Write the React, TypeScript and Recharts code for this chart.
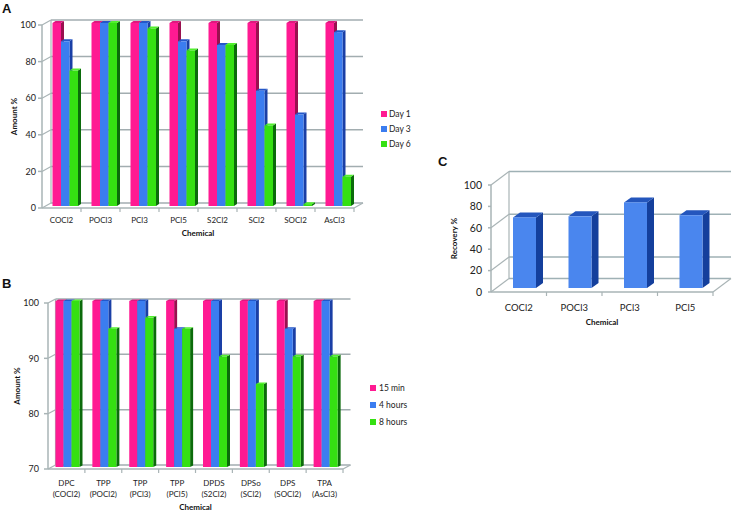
import { BarChart, Bar, XAxis, YAxis, CartesianGrid, Legend } from 'recharts';

const FONT = 'Lato, "Open Sans", sans-serif';
const AXIS = '#a9b4b6';

// Panel A
const chemicalsA = ['COCl2', 'POCl3', 'PCl3', 'PCl5', 'S2Cl2', 'SCl2', 'SOCl2', 'AsCl3'];
const day1 = [100, 100, 100, 100, 100, 100, 100, 100];
const day3 = [90, 100, 100, 90, 88, 63, 50, 95];
const day6 = [74, 100, 97, 85, 88, 44, 1, 16];
const ticksA = [0, 20, 40, 60, 80, 100];

// Panel B
const chemicalsB = [
  'DPC (COCl2)',
  'TPP (POCl2)',
  'TPP (PCl3)',
  'TPP (PCl5)',
  'DPDS (S2Cl2)',
  'DPSo (SCl2)',
  'DPS (SOCl2)',
  'TPA (AsCl3)',
];
const min15 = [100, 100, 100, 100, 100, 100, 100, 100];
const hours4 = [100, 100, 100, 95, 100, 100, 95, 100];
const hours8 = [100, 95, 97, 95, 90, 85, 90, 90];
const ticksB = [70, 80, 90, 100];

// Panel C
const chemicalsC = ['COCl2', 'POCl3', 'PCl3', 'PCl5'];
const recovery = [66, 67, 80, 68];
const ticksC = [0, 20, 40, 60, 80, 100];

const PINK = { face: '#ff1a92', side: '#99104f', top: '#e0187f' };
const BLUE = { face: '#3b7df0', side: '#1a3fa6', top: '#2457c8' };
const GREEN = { face: '#35e012', side: '#0b6b0b', top: '#52f02e' };
const BLUE_C = { face: '#4a86ee', side: '#143f9c', top: '#2456bd' };

const tableA = chemicalsA.map((name, i) => ({ name, a: day1[i], b: day3[i], c: day6[i] }));
const tableB = chemicalsB.map((name, i) => ({ name, a: min15[i], b: hours4[i], c: hours8[i] }));
const tableC = chemicalsC.map((name, i) => ({ name, a: recovery[i] }));

// extruded bar: front face plus top and side faces, moved back onto the floor
function box(colors: any, shiftX: number, shiftY: number, depthX: number, depthY: number) {
  return (p: any) => {
    const x = p.x + shiftX;
    const y = p.y + shiftY;
    const r = x + p.width;
    const b = y + p.height;
    return (
      <g>
        <polygon
          points={`${r},${y} ${r + depthX},${y - depthY} ${r + depthX},${b - depthY} ${r},${b}`}
          fill={colors.side}
        />
        <polygon
          points={`${x},${y} ${x + depthX},${y - depthY} ${r + depthX},${y - depthY} ${r},${y}`}
          fill={colors.top}
        />
        <rect x={x} y={y} width={p.width} height={Math.max(p.height, 0)} fill={colors.face} />
      </g>
    );
  };
}

// back wall line for each y tick, with the diagonal running to the front axis
function wall(dx: number, dy: number, top: number, bottom: number, stroke: string) {
  return (p: any) => (
    <g key={p.key}>
      <line x1={p.x1 + dx} x2={p.x2 + dx} y1={p.y1 - dy} y2={p.y1 - dy} stroke={stroke} strokeWidth={1.5} />
      <line x1={p.x1} x2={p.x1 + dx} y1={p.y1} y2={p.y1 - dy} stroke={AXIS} strokeWidth={1.2} />
      {p.y1 === bottom && (
        <line x1={p.x2} x2={p.x2 + dx} y1={p.y1} y2={p.y1 - dy} stroke={AXIS} strokeWidth={1.2} />
      )}
      {p.y1 === top && (
        <line x1={p.x1 + dx} x2={p.x1 + dx} y1={top - dy} y2={bottom - dy} stroke={AXIS} strokeWidth={1.2} />
      )}
    </g>
  );
}

// category labels split over lines, tick marks sit between the categories
function catTick(band: number, size: number, labelY: number, lineH: number) {
  return (p: any) => {
    const lines = String(p.payload.value).split(' ');
    return (
      <g>
        <line x1={p.x + band / 2} x2={p.x + band / 2} y1={p.y - 8} y2={p.y - 4} stroke={AXIS} strokeWidth={1.2} />
        <text x={p.x} y={p.y + labelY} textAnchor="middle" fontSize={size} fontFamily={FONT} fill="#222">
          {lines.map((t: string, i: number) => (
            <tspan key={t} x={p.x} dy={i ? lineH : 0}>
              {t}
            </tspan>
          ))}
        </text>
      </g>
    );
  };
}

function legendContent(labels: string[], colors: string[], gap: number, textGap: number) {
  return () => (
    <div style={{ fontFamily: FONT, fontSize: 8.5, color: '#222' }}>
      {labels.map((t, i) => (
        <div key={t} style={{ display: 'flex', alignItems: 'center', height: gap }}>
          <span style={{ width: 6, height: 6, background: colors[i], marginRight: textGap, display: 'inline-block' }} />
          {t}
        </div>
      ))}
    </div>
  );
}

function Letter({ t, x, y }: { t: string; x: number; y: number }) {
  return (
    <div
      style={{
        position: 'absolute',
        left: x,
        top: y,
        font: 'bold 13px "Liberation Sans", Arial, sans-serif',
        color: '#111',
        lineHeight: '13px',
      }}
    >
      {t}
    </div>
  );
}

const tickStyle = { fontSize: 9, fontFamily: FONT, fill: '#222' };
const titleStyle = { fontSize: 8, fontWeight: 700, fontFamily: FONT, fill: '#111' };

export default function App() {
  return (
    <div style={{ position: 'absolute', left: 0, top: 0, width: 736, height: 512, background: '#fff', overflow: 'hidden' }}>
      <Letter t="A" x={2} y={2} />
      <Letter t="B" x={2} y={277} />
      <Letter t="C" x={438} y={155} />

      <div style={{ position: 'absolute', left: 0, top: 0 }}>
        <BarChart width={450} height={245} data={tableA} margin={{ top: 25, right: 96, bottom: 0, left: 0 }} barGap={0} barSize={8.5}>
          <CartesianGrid vertical={false} horizontal={wall(9, 5, 25, 208, '#a2adb0')} />
          <XAxis
            dataKey="name"
            height={37}
            stroke={AXIS}
            strokeWidth={1.5}
            tickLine={false}
            interval={0}
            tick={catTick(39, 8, 7, 10)}
            label={{ value: 'Chemical', position: 'insideBottom', offset: 9, style: titleStyle }}
          />
          <YAxis
            width={42}
            domain={[0, 100]}
            ticks={ticksA}
            stroke={AXIS}
            strokeWidth={1.5}
            tickSize={4}
            tick={tickStyle}
            label={{ value: 'Amount %', angle: -90, position: 'insideLeft', offset: 14, style: { ...titleStyle, textAnchor: 'middle' } }}
          />
          <Legend
            layout="vertical"
            align="center"
            verticalAlign="middle"
            width={60}
            wrapperStyle={{ left: 381, top: 106 }}
            content={legendContent(['Day 1', 'Day 3', 'Day 6'], [PINK.face, BLUE.face, GREEN.face], 15, 2)}
          />
          <Bar dataKey="a" name="Day 1" fill={PINK.face} shape={box(PINK, 3.5, -2, 3, 2)} isAnimationActive={false} />
          <Bar dataKey="b" name="Day 3" fill={BLUE.face} shape={box(BLUE, 3.5, -2, 3, 2)} isAnimationActive={false} />
          <Bar dataKey="c" name="Day 6" fill={GREEN.face} shape={box(GREEN, 3.5, -2, 3, 2)} isAnimationActive={false} />
        </BarChart>
      </div>

      <div style={{ position: 'absolute', left: 0, top: 270 }}>
        <BarChart width={450} height={242} data={tableB} margin={{ top: 33, right: 107, bottom: 0, left: 0 }} barGap={0} barSize={8}>
          <CartesianGrid vertical={false} horizontal={wall(7.5, 4, 33, 199, '#a2adb0')} />
          <XAxis
            dataKey="name"
            height={43}
            stroke={AXIS}
            strokeWidth={1.5}
            tickLine={false}
            interval={0}
            tick={catTick(36.9, 8, 9, 10.5)}
            label={{ value: 'Chemical', position: 'insideBottom', offset: 2, style: titleStyle }}
          />
          <YAxis
            width={48}
            domain={[70, 100]}
            ticks={ticksB}
            stroke={AXIS}
            strokeWidth={1.5}
            tickSize={4}
            tickMargin={5}
            tick={tickStyle}
            label={{ value: 'Amount %', angle: -90, position: 'insideLeft', offset: 17, style: { ...titleStyle, textAnchor: 'middle' } }}
          />
          <Legend
            layout="vertical"
            align="center"
            verticalAlign="middle"
            width={60}
            wrapperStyle={{ left: 370, top: 110 }}
            content={legendContent(['15 min', '4 hours', '8 hours'], [PINK.face, BLUE.face, GREEN.face], 16.7, 3)}
          />
          <Bar dataKey="a" name="15 min" fill={PINK.face} shape={box(PINK, 1.5, -2, 3, 1.5)} isAnimationActive={false} />
          <Bar dataKey="b" name="4 hours" fill={BLUE.face} shape={box(BLUE, 1.5, -2, 3, 1.5)} isAnimationActive={false} />
          <Bar dataKey="c" name="8 hours" fill={GREEN.face} shape={box(GREEN, 1.5, -2, 3, 1.5)} isAnimationActive={false} />
        </BarChart>
      </div>

      <div style={{ position: 'absolute', left: 440, top: 160 }}>
        <BarChart width={296} height={172} data={tableC} margin={{ top: 25, right: 23, bottom: 0, left: 0 }} barSize={23}>
          <CartesianGrid vertical={false} horizontal={wall(18, 13.5, 25, 132, '#9fb1b5')} />
          <XAxis
            dataKey="name"
            height={40}
            stroke={AXIS}
            strokeWidth={1.5}
            tickLine={false}
            interval={0}
            tick={catTick(55.5, 9.5, 11, 11)}
            label={{ value: 'Chemical', position: 'insideBottom', offset: 7, style: titleStyle }}
          />
          <YAxis
            width={51}
            domain={[0, 100]}
            ticks={ticksC}
            stroke={AXIS}
            strokeWidth={1.5}
            tickSize={3}
            tickMargin={6}
            tick={{ ...tickStyle, fontSize: 10.5 }}
            label={{ value: 'Recovery %', angle: -90, position: 'insideLeft', offset: 14, style: { ...titleStyle, textAnchor: 'middle' } }}
          />
          <Bar dataKey="a" name="Recovery" fill={BLUE_C.face} shape={box(BLUE_C, 6, -4, 7, 5)} isAnimationActive={false} />
        </BarChart>
      </div>
    </div>
  );
}
